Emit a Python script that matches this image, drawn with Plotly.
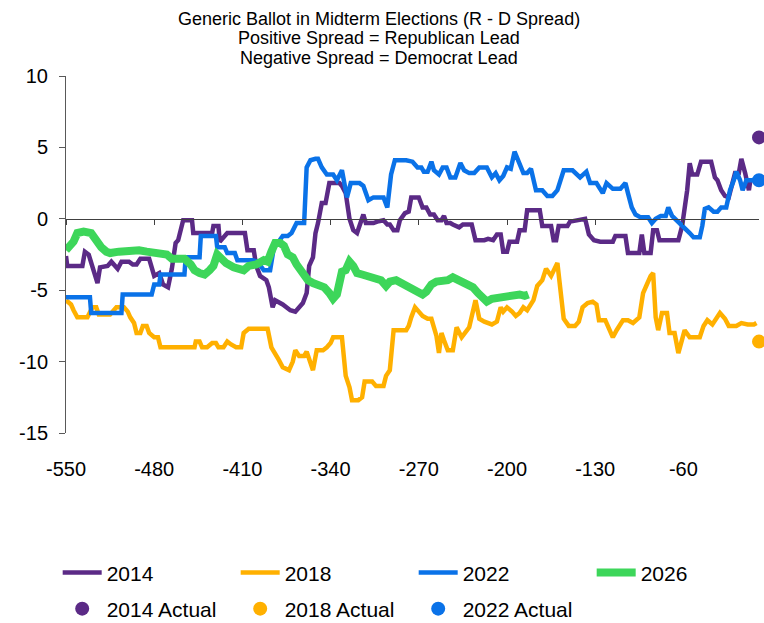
import plotly.graph_objects as go

# ---------------- data ----------------
days_2014 = [-550, -549, -537, -535, -532, -528, -525, -523, -517, -514, -511, -509, -506, -500, -497, -494,
             -491, -484, -480, -476, -473, -469, -466, -463, -461, -459, -457, -450, -449, -434, -433, -429,
             -428, -422, -408, -406, -401, -399, -396, -391, -389, -386, -384, -378, -375, -372, -368, -365,
             -362, -359, -357, -354, -352, -350, -347, -344, -341, -338, -333, -331, -328, -325, -322, -319,
             -317, -314, -312, -306, -303, -298, -295, -293, -290, -287, -285, -281, -278, -276, -270, -267,
             -264, -261, -258, -255, -252, -250, -248, -245, -243, -238, -235, -228, -225, -218, -215, -211,
             -208, -205, -203, -200, -198, -195, -192, -190, -186, -184, -174, -172, -165, -163, -161, -159,
             -152, -150, -141, -138, -135, -131, -126, -116, -114, -106, -104, -95, -93, -91, -86, -84, -81,
             -79, -64, -61, -57, -55, -53, -49, -46, -38, -35, -33, -30, -27, -24, -21, -19, -16, -14, -11,
             -8, -7]
spread_2014 = [-2.6, -3.3, -3.3, -2.3, -2.5, -3.6, -4.5, -3.4, -3.3, -3.0, -3.3, -3.5, -3.0, -3.0, -3.2, -3.2,
               -2.8, -2.8, -4.0, -3.8, -4.6, -4.8, -3.5, -1.7, -1.5, -0.8, -0.1, -0.1, -1.0, -1.0, -0.5, -0.5,
               -1.6, -1.0, -1.0, -2.2, -2.2, -3.3, -4.0, -4.3, -4.8, -6.2, -5.7, -6.0, -6.2, -6.4, -6.5, -6.2,
               -5.9, -5.2, -3.3, -2.7, -1.0, -0.3, 1.1, 1.1, 2.5, 2.5, 2.5, 2.3, 1.8, 0.0, -0.8, -1.0,
               -0.4, 0.3, -0.3, -0.3, -0.2, -0.1, -0.4, -0.4, -0.8, -0.8, -0.1, 0.4, 0.5, 1.5, 1.5, 0.8,
               0.8, 0.3, 0.3, -0.1, -0.1, 0.2, -0.3, -0.3, -0.4, -0.6, -0.4, -0.4, -1.5, -1.5, -1.4, -1.5,
               -1.1, -1.1, -2.3, -2.3, -1.6, -1.6, -1.6, -0.8, -0.8, 0.6, 0.6, -0.5, -0.5, -1.5, -1.5, -0.5,
               -0.5, -0.2, 0.0, 0.0, -1.1, -1.5, -1.6, -1.6, -1.2, -1.2, -2.4, -2.4, -1.1, -2.4, -2.4, -0.8, -0.8,
               -1.5, -1.5, -0.5, 2.0, 3.9, 3.1, 3.1, 4.0, 4.0, 2.9, 2.7, 2.0, 1.6, 1.5, 2.5, 3.2, 3.2, 4.2, 3.2,
               2.0, 2.6]

days_2018 = [-550, -546, -544, -541, -533, -531, -529, -526, -524, -515, -513, -510, -504, -501, -499, -496,
             -494, -491, -489, -486, -484, -480, -477, -475, -448, -447, -444, -442, -438, -434, -431, -429,
             -425, -422, -419, -415, -411, -409, -405, -390, -387, -384, -381, -378, -373, -370, -368, -365,
             -361, -359, -357, -354, -351, -346, -343, -340, -338, -331, -328, -325, -323, -318, -315, -313,
             -307, -304, -298, -296, -293, -290, -280, -278, -276, -273, -270, -267, -263, -260, -258, -256,
             -254, -252, -250, -247, -243, -240, -236, -230, -225, -222, -218, -212, -208, -205, -203, -200,
             -196, -193, -190, -187, -184, -181, -179, -176, -172, -169, -165, -160, -158, -155, -151, -146,
             -143, -140, -136, -132, -129, -127, -122, -119, -116, -113, -108, -104, -100, -95, -92, -89, -86,
             -84, -82, -80, -77, -73, -71, -67, -64, -59, -55, -47, -44, -41, -37, -31, -27, -24, -18, -14,
             -9, -4, -2]
spread_2018 = [-5.7, -6.0, -6.4, -6.9, -6.9, -6.5, -6.2, -6.2, -6.7, -6.7, -6.5, -6.2, -6.2, -6.5, -6.9, -7.3,
               -8.0, -8.0, -7.5, -7.5, -8.0, -8.3, -8.3, -9.0, -9.0, -8.6, -8.6, -9.0, -9.0, -8.7, -8.7, -9.0,
               -9.0, -8.6, -8.8, -9.0, -9.0, -8.0, -7.7, -7.7, -9.0, -9.4, -9.9, -10.4, -10.6, -10.0, -9.2, -9.6,
               -9.6, -9.3, -9.8, -10.6, -9.2, -9.2, -9.0, -8.7, -8.3, -8.3, -11.0, -11.8, -12.7, -12.7, -12.5, -11.4,
               -11.4, -11.7, -11.7, -11.0, -10.6, -7.8, -7.8, -7.5, -6.9, -6.2, -6.5, -6.8, -7.0, -7.0, -7.6, -8.2,
               -9.4, -8.0, -8.5, -9.2, -9.2, -7.6, -8.3, -7.6, -5.7, -7.0, -7.2, -7.4, -7.2, -6.2, -6.5, -6.2,
               -6.5, -6.8, -6.6, -6.2, -6.4, -6.0, -5.7, -4.7, -4.3, -3.5, -4.0, -3.1, -4.5, -7.0, -7.5, -7.5,
               -7.2, -6.2, -5.9, -5.8, -6.0, -7.1, -7.1, -7.8, -8.3, -7.8, -7.1, -7.1, -7.3, -6.9, -5.2, -4.6, -4.0,
               -3.8, -6.9, -7.8, -6.6, -6.6, -8.0, -8.0, -9.4, -7.8, -8.3, -8.3, -7.5, -7.1, -7.4, -6.6, -7.0, -7.5,
               -7.5, -7.3, -7.4, -7.4, -7.3]

days_2022 = [-550, -531, -530, -506, -505, -482, -480, -476, -475, -456, -455, -444, -443, -431, -430, -424,
             -422, -416, -414, -402, -398, -393, -388, -385, -382, -378, -374, -371, -367, -361, -359, -356,
             -352, -350, -347, -343, -338, -335, -331, -327, -324, -317, -314, -310, -306, -298, -295, -292,
             -289, -280, -275, -271, -268, -266, -263, -260, -258, -254, -251, -248, -245, -241, -237, -234,
             -230, -226, -222, -216, -212, -209, -206, -203, -200, -197, -194, -190, -187, -184, -181, -177,
             -172, -168, -164, -160, -155, -148, -142, -137, -134, -129, -124, -121, -116, -110, -106, -104,
             -101, -98, -94, -88, -85, -82, -78, -74, -72, -69, -63, -59, -55, -52, -47, -45, -43, -40, -36,
             -33, -30, -26, -23, -20, -18, -15, -13, -10, -6, -2]
spread_2022 = [-5.5, -5.5, -6.6, -6.6, -5.3, -5.3, -4.6, -4.6, -3.9, -3.9, -2.7, -2.7, -1.2, -1.2, -2.0, -2.0,
               -2.4, -2.4, -2.9, -2.9, -3.0, -3.6, -3.6, -2.0, -1.7, -1.2, -1.2, -1.0, -0.3, -0.3, 3.6, 4.1,
               4.2, 4.2, 3.6, 3.1, 3.1, 2.7, 3.4, 1.5, 2.5, 2.5, 2.3, 1.3, 1.5, 1.5, 0.8, 3.1,
               4.1, 4.1, 4.0, 3.6, 3.6, 3.3, 3.3, 4.0, 3.4, 3.1, 3.6, 3.6, 2.9, 2.9, 3.9, 3.4,
               3.2, 3.2, 3.6, 3.6, 2.9, 3.2, 2.7, 3.0, 3.6, 3.5, 4.7, 3.8, 3.2, 3.2, 3.5, 2.0,
               2.0, 1.6, 1.6, 2.0, 3.4, 3.4, 2.9, 3.3, 2.5, 2.5, 1.8, 2.5, 2.1, 2.1, 2.5, 1.8,
               0.8, 0.3, 0.1, 0.1, -0.3, 0.0, 0.2, 0.2, 0.8, 0.2, -0.3, -0.6, -1.0, -1.3, -1.3, -0.5, 0.7, 0.8, 0.5,
               0.5, 0.8, 0.8, 2.0, 2.7, 3.3, 2.7, 2.0, 2.7, 2.7, 2.7]

days_2026 = [-550, -547, -544, -541, -536, -530, -528, -525, -522, -518, -515, -508, -500, -492, -486, -480,
             -474, -470, -466, -456, -451, -448, -444, -440, -436, -433, -430, -427, -423, -417, -409, -405,
             -399, -393, -390, -387, -384, -380, -377, -374, -370, -367, -364, -361, -358, -354, -349, -345,
             -341, -338, -335, -333, -331, -328, -325, -322, -319, -315, -310, -305, -300, -296, -293, -288,
             -284, -280, -276, -272, -267, -264, -260, -256, -251, -247, -243, -239, -235, -231, -227, -223,
             -220, -216, -212, -207, -200, -195, -190, -186, -183]
spread_2026 = [-2.2, -1.9, -1.6, -1.0, -0.9, -1.0, -1.3, -1.7, -2.0, -2.3, -2.4, -2.3, -2.2, -2.2, -2.3, -2.4,
               -2.5, -2.5, -2.8, -2.8, -3.2, -3.6, -3.8, -3.9, -3.6, -3.3, -2.5, -2.8, -3.1, -3.4, -3.6, -3.3,
               -3.2, -2.9, -3.0, -2.3, -1.7, -1.7, -1.9, -2.5, -2.7, -3.2, -3.6, -4.0, -4.3, -4.5, -4.6, -4.8,
               -5.2, -5.6, -5.3, -4.3, -3.7, -3.6, -3.0, -3.3, -3.8, -3.9, -4.0, -4.1, -4.3, -4.7, -4.4, -4.3,
               -4.5, -4.6, -4.8, -5.0, -5.3, -5.1, -4.6, -4.4, -4.4, -4.3, -4.1, -4.3, -4.5, -4.6, -4.8, -5.2,
               -5.5, -5.8, -5.6, -5.5, -5.5, -5.4, -5.3, -5.4, -5.3]

actual_labels = ["2014 Actual", "2018 Actual", "2022 Actual"]
actual_day = [0, 0, 0]
actual_values = [5.7, -8.6, 2.7]

x_ticks = [-550, -480, -410, -340, -270, -200, -130, -60]
y_ticks = [-15, -10, -5, 0, 5, 10]
title_lines = ["Generic Ballot in Midterm Elections (R - D Spread)",
               "Positive Spread = Republican Lead",
               "Negative Spread = Democrat Lead"]

# ---------------- style ----------------
C14, C18, C22, C26 = "#5B2A86", "#FFB000", "#0A72E8", "#3DD65A"
FONT = "Liberation Sans, Arial, sans-serif"
AX = "#595959"

fig = go.Figure()
series = [("2014", days_2014, spread_2014, C14, 4.5),
          ("2018", days_2018, spread_2018, C18, 4.5),
          ("2022", days_2022, spread_2022, C22, 4.5),
          ("2026", days_2026, spread_2026, C26, 8)]
for name, xs, ys, col, w in series:
    fig.add_trace(go.Scatter(x=xs, y=ys, mode="lines", name=name,
                             line=dict(color=col, width=w), legend="legend",
                             hoverinfo="skip"))

for lab, xd, yv, col in zip(actual_labels, actual_day, actual_values, [C14, C18, C22]):
    fig.add_trace(go.Scatter(x=[xd], y=[yv], mode="markers", name=lab,
                             marker=dict(color=col, size=14), legend="legend2",
                             cliponaxis=False))

# helper trace to realise the zero-line axis
fig.add_trace(go.Scatter(x=[x_ticks[0]], y=[0], xaxis="x2", mode="markers",
                         marker=dict(opacity=0), showlegend=False, hoverinfo="skip"))

# title as three separate lines (tight line spacing)
title_y = [1.160, 1.106, 1.050]
for txt, ty in zip(title_lines, title_y):
    fig.add_annotation(text=txt, xref="paper", yref="paper", x=0.452, y=ty,
                       xanchor="center", yanchor="middle", showarrow=False,
                       font=dict(family=FONT, size=18, color="#000000"))

legend_common = dict(orientation="h", x=-0.012, xanchor="left", yanchor="middle",
                     entrywidth=124, entrywidthmode="pixels", itemwidth=39,
                     traceorder="normal", font=dict(size=21, family=FONT),
                     bgcolor="rgba(0,0,0,0)")

fig.update_layout(
    width=764, height=623,
    margin=dict(l=66, r=5, t=76, b=190, autoexpand=False),
    paper_bgcolor="white", plot_bgcolor="white",
    font=dict(family=FONT, color="#000000", size=20),
    xaxis=dict(range=[-550, 0], tickvals=x_ticks, ticktext=[str(v) for v in x_ticks],
               showline=False, showgrid=False, zeroline=False,
               ticks="outside", ticklen=18, tickcolor="rgba(0,0,0,0)",
               tickfont=dict(size=20), automargin=False),
    xaxis2=dict(range=[-550, 0], overlaying="x", anchor="free", position=0.6, side="bottom",
                tickvals=x_ticks, showticklabels=False, showline=True, linecolor="#404040",
                linewidth=1.2, ticks="outside", ticklen=5, tickcolor="#404040", showgrid=False,
                zeroline=False),
    yaxis=dict(range=[-15, 10], tickvals=y_ticks, ticktext=[str(v) for v in y_ticks],
               showline=True, linecolor=AX, linewidth=1,
               ticks="outside", ticklen=6, tickcolor=AX, showgrid=False, zeroline=False,
               ticklabelstandoff=7, tickfont=dict(size=20), automargin=False),
    legend=dict(legend_common, y=-0.392),
    legend2=dict(legend_common, y=-0.493),
    showlegend=True,
)

fig.write_html("out.html", config={"displayModeBar": False},
               post_script="document.body.style.margin='0px';document.body.style.padding='0px';")
